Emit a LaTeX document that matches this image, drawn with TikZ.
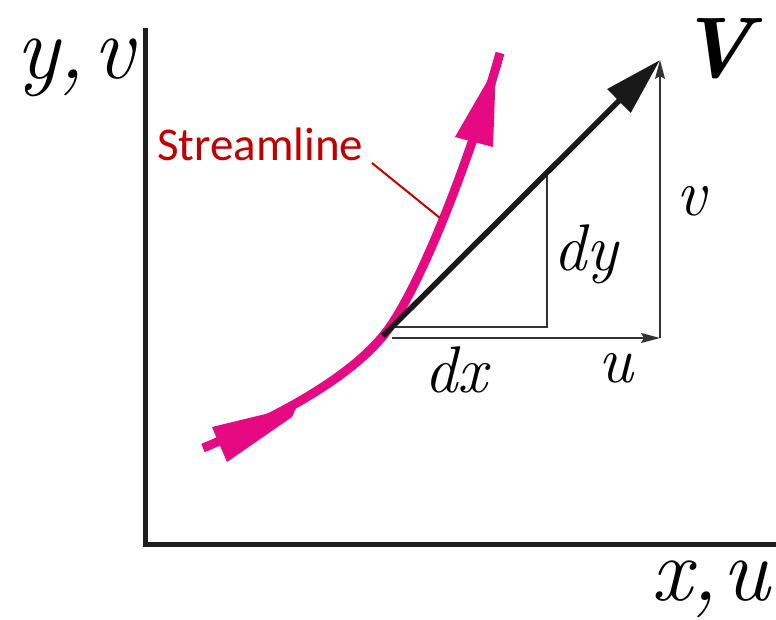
\documentclass[tikz,border=0pt]{standalone}
\usepackage{fontspec}
\newfontfamily\calib{Carlito}
\usetikzlibrary{arrows.meta}
\definecolor{stream}{RGB}{230,10,130}
\definecolor{labred}{RGB}{192,0,0}
\definecolor{axisgray}{RGB}{30,30,30}
\definecolor{thingray}{RGB}{50,50,50}
\tikzset{
  axisline/.style={line width=5pt,draw=axisgray},
  thinline/.style={line width=1.6pt,draw=thingray},
  thinarrow/.style={thinline,-{Stealth[length=19pt,width=10pt,inset=3pt]}},
  velarrow/.style={line width=5.5pt,draw=black!90,-{Triangle[length=58pt,width=32pt]}},
  lbl/.style={anchor=base west,inner sep=0pt,font=\itshape\fontsize{66}{70}\selectfont},
  biglbl/.style={inner sep=0pt,font=\itshape\fontsize{90}{94}\selectfont},
}
\begin{document}
\begin{tikzpicture}[x=1pt,y=-1pt]
\useasboundingbox (0,0) rectangle (776,619);
% axes
\coordinate (ytop) at (145,28);
\coordinate (orig) at (145,544);
\coordinate (xend) at (776,544);
\draw[axisline] (ytop) -- (orig) -- (xend);
% axis labels
\node[biglbl,anchor=base west] (ylab) at (16,78) {y,\kern8pt v};
\node[biglbl,anchor=base east] (xlab) at (770,600) {x,\kern4pt u};
% points
\coordinate (P) at (383,336);
\coordinate (Vt) at (660,60);
\coordinate (uL) at (392,338);
\coordinate (uR) at (660,338);
\coordinate (dxL) at (392,327);
\coordinate (dxR) at (547,327);
\coordinate (dyT) at (547,172);
% streamline
\draw[stream,line width=9pt] (203,448) .. controls (270,420) and (345,382) .. (383,336)
   .. controls (418,294) and (470,160) .. (500,53);
\fill[stream] (212,427) -- (282,410) -- (300,400) -- (292,417) -- (227,462) -- cycle;
\fill[stream] (455,137) -- (496,66) -- (493,147) -- cycle;
% streamline label
\node[anchor=base west,inner sep=0pt,text=labred,font=\calib\fontsize{47}{50}\selectfont] (sl) at (157,160) {Streamline};
\coordinate (slend) at (440,218);
\draw[labred,line width=2pt] (372,163) -- (slend);
% triangle dx dy
\draw[thinline] (dxL) -- (dxR) -- (dyT);
% u and v components
\draw[thinarrow] (uL) -- (uR);
\draw[thinarrow] (uR) -- (Vt);
% velocity
\draw[velarrow] (P) -- (Vt);
% labels
\node[anchor=base west,inner sep=0pt,font=\bfseries\itshape\fontsize{86}{90}\selectfont] (Vlab) at (678,77) {V};
\node[lbl] (vlab) at (676,215) {v};
\node[lbl] (dylab) at (553,270) {dy};
\node[lbl] (ulab) at (598,382) {u};
\node[lbl] (dxlab) at (424,392) {dx};
\end{tikzpicture}
\end{document}
